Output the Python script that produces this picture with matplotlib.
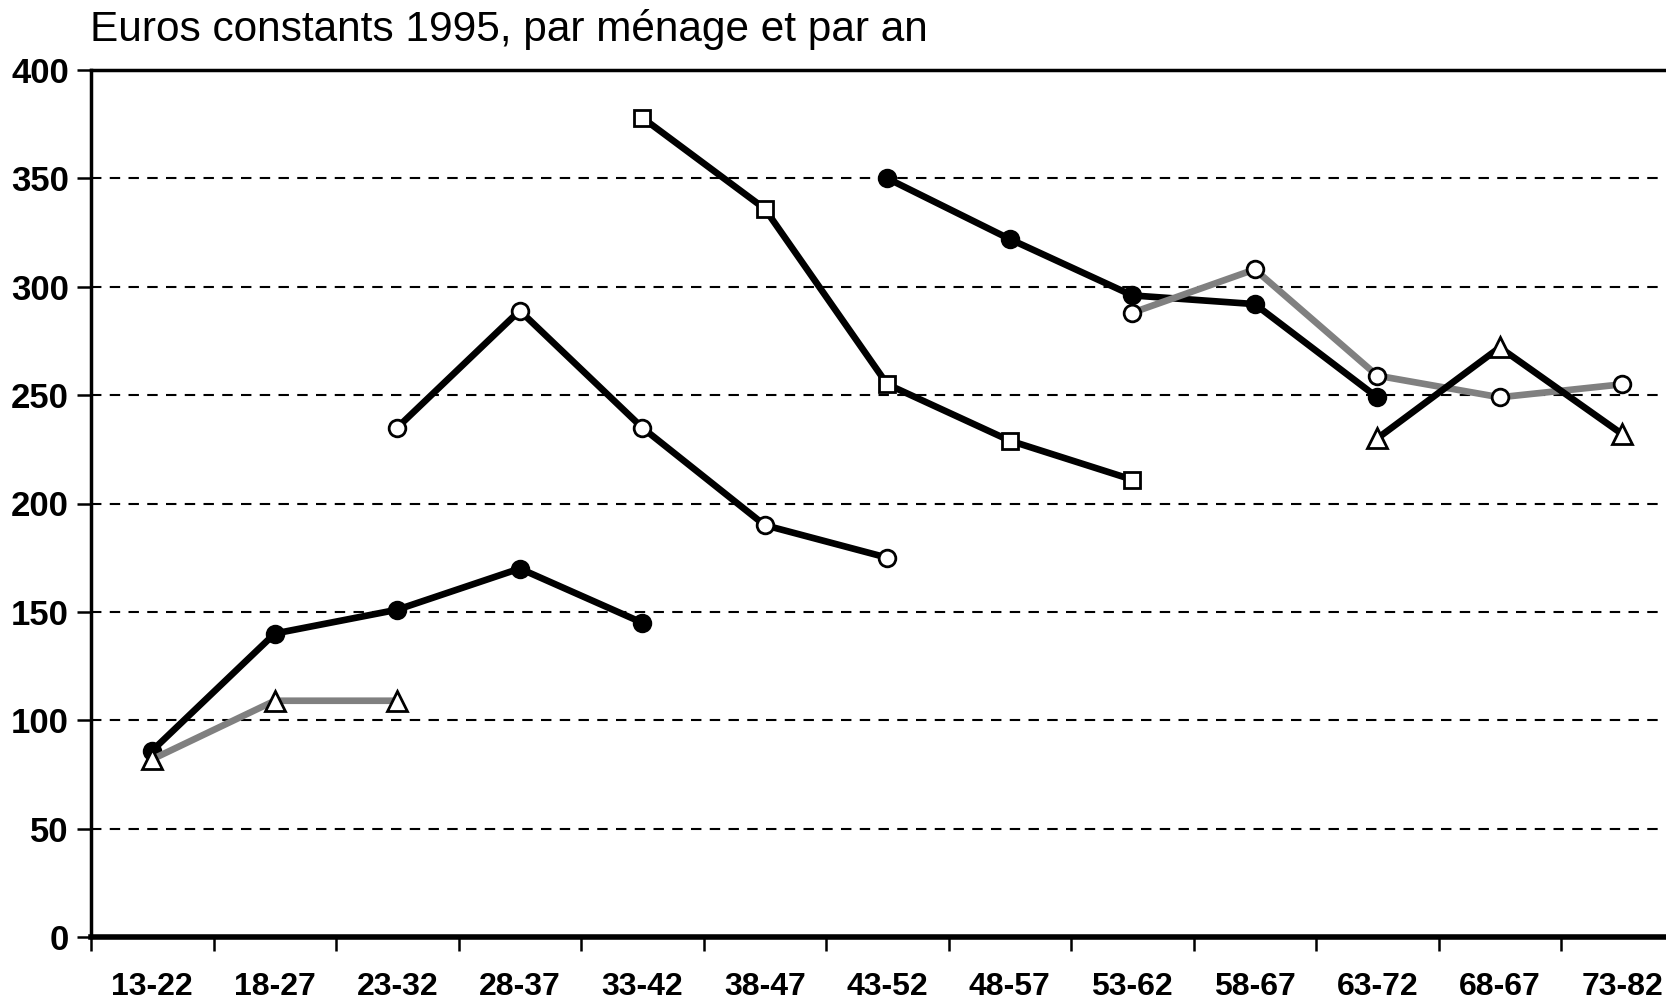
import matplotlib
matplotlib.use("Agg")
import matplotlib.pyplot as plt
import numpy as np

plt.rcParams["font.family"] = ["Liberation Sans", "DejaVu Sans"]

# Cohort age bands on the x axis
cohorts = ["13-22", "18-27", "23-32", "28-37", "33-42", "38-47", "43-52",
           "48-57", "53-62", "58-67", "63-72", "68-67", "73-82"]

# Each generation: (start index, values, colour, marker, marker fill)
gen_a_vals = [86, 140, 151, 170, 145]
gen_b_vals = [82, 109, 109]
gen_c_vals = [235, 289, 235, 190, 175]
gen_d_vals = [378, 336, 255, 229, 211]
gen_e_vals = [350, 322, 296, 292, 249]
gen_f_vals = [288, 308, 259, 249, 255]
gen_g_vals = [230, 272, 232]

series = [
    (0, gen_a_vals, "black", "o", "black"),
    (0, gen_b_vals, "#808080", "^", "white"),
    (2, gen_c_vals, "black", "o", "white"),
    (4, gen_d_vals, "black", "s", "white"),
    (6, gen_e_vals, "black", "o", "black"),
    (8, gen_f_vals, "#808080", "o", "white"),
    (10, gen_g_vals, "black", "^", "white"),
]

fig = plt.figure(figsize=(16.66, 10.01), dpi=100)
ax = fig.add_axes([91 / 1666, 1 - 937 / 1001, 1 - 91 / 1666, (937 - 70) / 1001])

for start, vals, col, mk, fill in series:
    x = np.arange(start, start + len(vals))
    ax.plot(x, vals, color=col, lw=4.8, marker=mk, markersize=14 if mk == "^" else 12,
            markerfacecolor=fill, markeredgecolor="black", markeredgewidth=2,
            solid_joinstyle="round", zorder=3)

ax.set_ylim(0, 400)
ax.set_xlim(-0.5, (1666 - 91) / 122.5 - 0.5)
ax.set_yticks(np.arange(0, 401, 50))
for y in range(50, 400, 50):
    ax.axhline(y, color="black", lw=1.5, ls=(0, (5, 4)), zorder=1)

ax.set_xticks(np.arange(len(cohorts)))
ax.set_xticklabels(cohorts, fontsize=23, fontweight="bold")
ax.set_xticks(np.arange(len(cohorts)) - 0.5, minor=True)
ax.tick_params(axis="x", which="major", length=0, pad=25)
ax.tick_params(axis="x", which="minor", length=10, width=1.8, direction="out")
ax.tick_params(axis="y", length=10, width=1.8, pad=6, labelsize=25)
for lab in ax.get_yticklabels():
    lab.set_fontweight("bold")

ax.spines["right"].set_visible(False)
ax.spines["left"].set_linewidth(2.5)
ax.spines["top"].set_linewidth(2.5)
ax.spines["bottom"].set_linewidth(4)

fig.text(90 / 1666, 1 - 30 / 1001, "Euros constants 1995, par ménage et par an",
         fontsize=30.5, va="center", ha="left")

fig.savefig("out.png", dpi=100)
